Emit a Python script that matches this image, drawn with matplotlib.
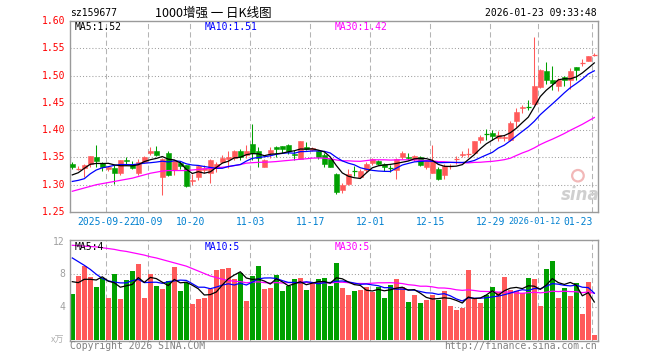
import numpy as np
import matplotlib
matplotlib.use('Agg')
import matplotlib.pyplot as plt
from matplotlib.patches import Rectangle, Ellipse

# ---------------- data ----------------
opens = [1.338, 1.329, 1.330, 1.338, 1.351, 1.340, 1.329, 1.331, 1.322, 1.345,
         1.337, 1.322, 1.341, 1.359, 1.362, 1.315, 1.358, 1.327, 1.340, 1.336,
         1.306, 1.315, 1.327, 1.322, 1.330, 1.341, 1.347, 1.349, 1.362, 1.354,
         1.375, 1.362, 1.333, 1.359, 1.370, 1.371, 1.372, 1.356, 1.348, 1.370,
         1.364, 1.362, 1.355, 1.347, 1.320, 1.290, 1.301, 1.325, 1.315, 1.327,
         1.339, 1.344, 1.338, 1.332, 1.327, 1.350, 1.351, 1.347, 1.350, 1.333,
         1.322, 1.329, 1.318, 1.333, 1.346, 1.355, 1.356, 1.359, 1.382, 1.394,
         1.395, 1.385, 1.386, 1.382, 1.417, 1.440, 1.442, 1.448, 1.479, 1.508,
         1.492, 1.481, 1.497, 1.492, 1.515, 1.522, 1.527, 1.537]
highs = [1.341, 1.334, 1.338, 1.353, 1.372, 1.342, 1.335, 1.336, 1.346, 1.350,
         1.344, 1.347, 1.352, 1.369, 1.371, 1.349, 1.362, 1.345, 1.343, 1.337,
         1.319, 1.336, 1.336, 1.347, 1.341, 1.355, 1.361, 1.364, 1.366, 1.372,
         1.411, 1.370, 1.347, 1.369, 1.371, 1.371, 1.374, 1.364, 1.380, 1.378,
         1.370, 1.364, 1.359, 1.349, 1.321, 1.303, 1.328, 1.334, 1.328, 1.341,
         1.349, 1.346, 1.339, 1.336, 1.349, 1.362, 1.358, 1.354, 1.353, 1.346,
         1.372, 1.333, 1.338, 1.338, 1.352, 1.361, 1.367, 1.380, 1.392, 1.402,
         1.400, 1.398, 1.391, 1.416, 1.440, 1.446, 1.455, 1.570, 1.512, 1.524,
         1.518, 1.495, 1.499, 1.513, 1.515, 1.530, 1.536, 1.541]
lows = [1.328, 1.327, 1.315, 1.333, 1.333, 1.326, 1.325, 1.301, 1.318, 1.336,
        1.328, 1.318, 1.340, 1.355, 1.353, 1.281, 1.316, 1.318, 1.329, 1.296,
        1.300, 1.309, 1.322, 1.304, 1.324, 1.340, 1.330, 1.346, 1.346, 1.349,
        1.346, 1.332, 1.332, 1.349, 1.350, 1.359, 1.357, 1.346, 1.347, 1.363,
        1.362, 1.348, 1.332, 1.332, 1.283, 1.284, 1.299, 1.316, 1.312, 1.324,
        1.337, 1.336, 1.326, 1.323, 1.310, 1.347, 1.345, 1.344, 1.335, 1.329,
        1.321, 1.309, 1.310, 1.329, 1.338, 1.350, 1.350, 1.358, 1.376, 1.382,
        1.382, 1.381, 1.381, 1.381, 1.406, 1.432, 1.437, 1.446, 1.477, 1.485,
        1.474, 1.471, 1.481, 1.475, 1.492, 1.518, 1.526, 1.535]
closes = [1.333, 1.330, 1.336, 1.353, 1.343, 1.332, 1.332, 1.322, 1.345, 1.343,
          1.331, 1.342, 1.351, 1.362, 1.355, 1.348, 1.318, 1.344, 1.334, 1.298,
          1.309, 1.334, 1.331, 1.346, 1.338, 1.349, 1.351, 1.362, 1.351, 1.362,
          1.359, 1.349, 1.345, 1.364, 1.366, 1.365, 1.362, 1.354, 1.380, 1.365,
          1.368, 1.350, 1.338, 1.333, 1.287, 1.300, 1.320, 1.324, 1.326, 1.338,
          1.347, 1.338, 1.332, 1.331, 1.347, 1.358, 1.349, 1.352, 1.336, 1.344,
          1.343, 1.311, 1.335, 1.334, 1.347, 1.357, 1.357, 1.380, 1.388, 1.393,
          1.390, 1.391, 1.388, 1.414, 1.434, 1.442, 1.441, 1.481, 1.510, 1.492,
          1.487, 1.491, 1.491, 1.509, 1.510, 1.523, 1.536, 1.538]
volumes = [5.59, 7.79, 9.02, 7.67, 6.45, 7.55, 5.10, 8.04, 4.98, 7.30,
           8.40, 9.26, 5.10, 8.04, 6.57, 6.20, 7.18, 8.89, 5.96, 6.94,
           4.37, 4.98, 5.10, 6.20, 8.53, 8.65, 8.77, 7.43, 8.16, 4.73,
           7.79, 9.02, 6.20, 6.32, 7.91, 5.96, 6.57, 7.43, 7.59, 6.08,
           6.94, 7.43, 7.55, 6.57, 9.38, 6.32, 5.47, 5.96, 6.08, 6.45,
           5.84, 6.45, 5.10, 6.69, 7.43, 6.45, 4.61, 5.47, 4.49, 4.86,
           5.47, 4.86, 5.96, 4.12, 3.63, 3.88, 8.53, 4.98, 4.49, 5.47,
           6.45, 5.84, 7.67, 6.08, 5.96, 5.71, 7.55, 7.43, 4.12, 8.65,
           9.63, 5.10, 6.32, 5.35, 6.94, 3.14, 7.06, 0.57]

# moving-average values at the left edge (window reaches before the first shown day)
price_ma5_head = [1.318, 1.322, 1.330, 1.3375]
price_ma10_head = [1.306, 1.308, 1.311, 1.320, 1.327, 1.331, 1.333, 1.3355, 1.337]
price_ma30_head = [1.288, 1.291, 1.294, 1.297, 1.300, 1.302, 1.304, 1.306, 1.308, 1.310,
                   1.312, 1.315, 1.318, 1.321, 1.323, 1.325, 1.326, 1.326, 1.326, 1.326,
                   1.327, 1.328, 1.329, 1.330, 1.331, 1.332, 1.333, 1.335, 1.337]
vol_ma5_head = [7.10, 6.98, 7.39, 7.39]
vol_ma10_head = [10.0, 9.55, 9.1, 8.6, 8.0, 7.5, 7.2, 7.05, 6.95]
vol_ma30_head = [11.55, 11.5, 11.45, 11.4, 11.35, 11.25, 11.15, 11.05, 10.9, 10.8,
                 10.65, 10.5, 10.35, 10.15, 10.0, 9.8, 9.6, 9.4, 9.2, 9.0,
                 8.7, 8.4, 8.1, 7.8, 7.6, 7.4, 7.25, 7.15, 7.1]

date_ticks = [6, 13, 20, 30, 40, 50, 60, 70, 78, 87]
date_labels = ['2025-09-22', '10-09', '10-20', '11-03', '11-17', '12-01',
               '12-15', '12-29', '2026-01-12', '01-23']
price_ticks = [1.25, 1.30, 1.35, 1.40, 1.45, 1.50, 1.55, 1.60]
vol_ticks = [4, 8, 12]

title_code = 'sz159677'
title_name = '1000增强 一 日K线图'
timestamp = '2026-01-23 09:33:48'

# ---------------- helpers ----------------
def moving_avg(vals, n, head):
    vals = np.asarray(vals, dtype=float)
    out = np.empty(len(vals))
    out[:len(head)] = head
    for i in range(len(head), len(vals)):
        out[i] = vals[i - n + 1:i + 1].mean()
    return out

O = np.array(opens); Hh = np.array(highs); L = np.array(lows); C = np.array(closes)
V = np.array(volumes)
n = len(C)
idx = np.arange(n)

pma5 = moving_avg(C, 5, price_ma5_head)
pma10 = moving_avg(C, 10, price_ma10_head)
pma30 = moving_avg(C, 30, price_ma30_head)
vma5 = moving_avg(V, 5, vol_ma5_head)
vma10 = moving_avg(V, 10, vol_ma10_head)
vma30 = moving_avg(V, 30, vol_ma30_head)

RED = '#ff5a5a'
GREEN = '#00a000'
MONO = 'DejaVu Sans Mono'
GRID_V = '#b4b4b4'
GRID_H = '#a0a0a0'
FRAME = '#9a9a9a'

W, Hpx = 660, 360
fig = plt.figure(figsize=(6.6, 3.6), dpi=100)
fig.patch.set_facecolor('white')

def px_axes(l, t, r, b):
    return fig.add_axes([l / W, 1 - b / Hpx, (r - l) / W, (b - t) / Hpx])

def fy(y):
    return 1 - y / Hpx

def fx(x):
    return x / W

ax = px_axes(70, 21, 598, 212)
axv = px_axes(70, 240.3, 598, 340.7)

xmin, xmax = -0.383, n - 0.383
for a in (ax, axv):
    a.set_xlim(xmin, xmax)
    a.set_xticks([])
    a.set_yticks([])
    for s in a.spines.values():
        s.set_color(FRAME)
        s.set_linewidth(1.0)
    a.set_facecolor('white')

ax.set_ylim(1.25, 1.60)
axv.set_ylim(-0.12, 12.16)

# grids
for t in date_ticks:
    for a in (ax, axv):
        a.axvline(t - 0.33, color=GRID_V, lw=0.75, ls=(0, (5, 3)), zorder=0)
for p in price_ticks[1:-1]:
    ax.axhline(p, color=GRID_H, lw=0.75, ls=(0, (1, 2)), zorder=0)
for v in vol_ticks[:-1]:
    axv.axhline(v, color=GRID_H, lw=0.75, ls=(0, (1, 2)), zorder=0)

# watermark (behind the data)
ax.text(0.967, 0.09, 'sina', transform=ax.transAxes, ha='center', va='center',
        fontsize=12, color='#cfcfcf', style='italic', weight='bold',
        family='DejaVu Sans', zorder=1)
ax.add_patch(Ellipse((0.962, 0.19), 0.022, 0.06, transform=ax.transAxes,
                     facecolor='none', edgecolor='#f2b8b8', lw=1.6, zorder=1))

# candles
bw = 5.0 / 6.0
for i in idx:
    up = C[i] >= O[i]
    col = RED if up else GREEN
    ax.vlines(i, L[i], Hh[i], color=col, lw=0.75, zorder=2)
    lo, hi = min(O[i], C[i]), max(O[i], C[i])
    if hi - lo < 0.0015:
        ax.hlines((O[i] + C[i]) / 2, i - bw / 2, i + bw / 2, color=col, lw=0.9, zorder=3)
    else:
        ax.add_patch(Rectangle((i - bw / 2, lo), bw, hi - lo, facecolor=col,
                               edgecolor=col, lw=0.4, zorder=3))

ax.plot(idx, pma30, color='#ff00ff', lw=0.9, zorder=4)
ax.plot(idx, pma10, color='#0000ff', lw=0.9, zorder=4)
ax.plot(idx, pma5, color='black', lw=0.9, zorder=4)

# volume
vcols = [RED if C[i] >= O[i] else GREEN for i in idx]
axv.bar(idx, V, width=bw, color=vcols, linewidth=0, zorder=2)
axv.plot(idx, vma30, color='#ff00ff', lw=0.9, zorder=4)
axv.plot(idx, vma10, color='#0000ff', lw=0.9, zorder=4)
axv.plot(idx, vma5, color='black', lw=0.9, zorder=4)

# axis labels (price)
for p in price_ticks:
    y = 21 + (1.60 - p) * 545.7
    fig.text(fx(65), fy(y), '%.2f' % p, ha='right', va='center', color='#ff0000',
             fontsize=7, family=MONO)
for v in vol_ticks:
    y = 339.7 - v * 8.175
    fig.text(fx(65), fy(max(y, 241)), '%d' % v, ha='right', va='center', color='#a0a0a0',
             fontsize=7, family=MONO)
fig.text(fx(64), fy(340), 'x万', ha='right', va='center', color='#b0b0b0', fontsize=6.5,
         family=['Noto Sans CJK SC', 'DejaVu Sans'], style='italic')

# date labels
for j, (t, lab) in enumerate(zip(date_ticks, date_labels)):
    x = 72.3 + 6 * t - 2
    if j == len(date_labels) - 1:
        fig.text(fx(x), fy(222), lab, ha='right', va='center', color='#0080d0',
                 fontsize=7, family=MONO)
    elif j == len(date_labels) - 2:
        fig.text(fx(561), fy(222), lab, ha='right', va='center', color='#0080d0',
                 fontsize=6.2, family=MONO)
    else:
        fig.text(fx(x), fy(222), lab, ha='center', va='center', color='#0080d0',
                 fontsize=7, family=MONO)

# header texts
fig.text(fx(70), fy(13), title_code, ha='left', va='center', fontsize=7, family=MONO)
fig.text(fx(213), fy(13), title_name, ha='center', va='center', fontsize=9,
         family=['Noto Sans CJK SC', 'DejaVu Sans'])
fig.text(fx(597), fy(13), timestamp, ha='right', va='center', fontsize=7, family=MONO)

# MA legends
fig.text(fx(75), fy(26.5), 'MA5:%.2f' % pma5[-1], ha='left', va='center', fontsize=7,
         family=MONO, color='black')
fig.text(fx(205), fy(26.5), 'MA10:%.2f' % pma10[-1], ha='left', va='center', fontsize=7,
         family=MONO, color='#0000ff')
fig.text(fx(335), fy(26.5), 'MA30:%.2f' % pma30[-1], ha='left', va='center', fontsize=7,
         family=MONO, color='#ff00ff')
fig.text(fx(75), fy(247), 'MA5:%d' % int(vma5[-1]), ha='left', va='center', fontsize=7,
         family=MONO, color='black')
fig.text(fx(205), fy(247), 'MA10:%d' % int(vma10[-1]), ha='left', va='center', fontsize=7,
         family=MONO, color='#0000ff')
fig.text(fx(335), fy(247), 'MA30:%d' % int(vma30[-1]), ha='left', va='center', fontsize=7,
         family=MONO, color='#ff00ff')

# footer
fig.text(fx(70), fy(346), 'Copyright 2026 SINA.COM', ha='left', va='center', fontsize=7,
         family=MONO, color='#808080')
fig.text(fx(597), fy(346), 'http://finance.sina.com.cn', ha='right', va='center',
         fontsize=7, family=MONO, color='#808080')

fig.savefig('out.png', dpi=100)
